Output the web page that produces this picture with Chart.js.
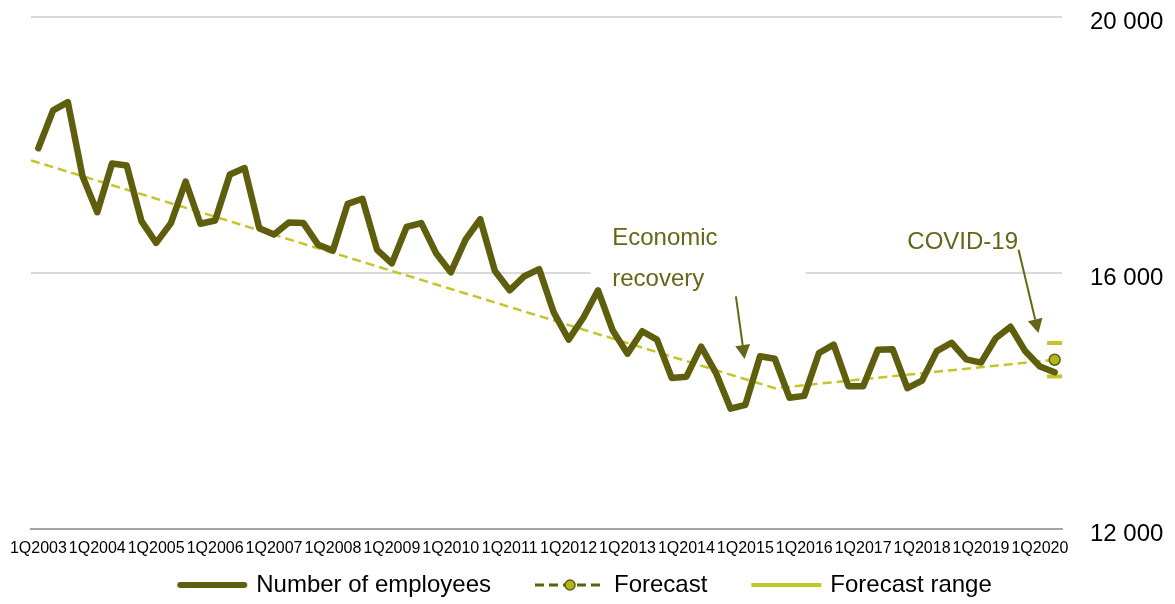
<!DOCTYPE html>
<html>
<head>
<meta charset="utf-8">
<script src="https://cdn.jsdelivr.net/npm/chart.js@4.4.1/dist/chart.umd.min.js"></script>
<style>
  body { margin: 0; background: #fff; }
  #wrap { width: 1175px; height: 604px; }
</style>
</head>
<body>
<div id="wrap"><canvas id="employeesChart"></canvas></div>
<script>
// quarters 1Q2003 .. 2Q2020
const quarters = [];
for (let year = 2003; year <= 2020; year++) {
    for (let q = 1; q <= 4; q++) {
        if (year === 2020 && q > 2) break;
        quarters.push(q + 'Q' + year);
    }
}

const employees = [
    17950, 18540, 18670, 17510, 16950, 17710, 17680, 16810,
    16470, 16780, 17430, 16770, 16820, 17540, 17640, 16700,
    16600, 16790, 16780, 16440, 16350, 17080, 17160, 16360,
    16150, 16720, 16780, 16310, 16010, 16520, 16840, 16030,
    15730, 15950, 16060, 15380, 14960, 15300, 15730, 15100,
    14740, 15090, 14960, 14360, 14380, 14850, 14440, 13880,
    13940, 14700, 14660, 14050, 14080, 14750, 14880, 14230,
    14230, 14800, 14810, 14200, 14320, 14780, 14910, 14650,
    14600, 14980, 15160, 14780, 14540, 14450,
];

// forecast for 2Q2020 and its range
const forecastQuarter = 69;
const forecastValue = 14645;
const forecastRange = [14906, 14384];

// dashed trend: start of 1Q2003, low point in 2015, forecast
const trendAt = [-0.5, 50, 69];
const trendValues = [17760, 14200, 14645];

const yTicks = [12000, 16000, 20000];

const OLIVE = '#5e5e0e';
const TEXT_OLIVE = '#66661a';
const LIME = '#c4c42b';

// legend symbols: 70px visible part, transparent margin on the left keeps items apart
const symbol = (draw) => {
    const c = document.createElement('canvas');
    c.width = 107;
    c.height = 14;
    draw(c.getContext('2d'));
    return c;
};
const employeesSymbol = symbol((g) => {
    g.strokeStyle = OLIVE;
    g.lineWidth = 6;
    g.lineCap = 'round';
    g.beginPath(); g.moveTo(39, 7); g.lineTo(103, 7); g.stroke();
});
const forecastSymbol = symbol((g) => {
    g.strokeStyle = OLIVE;
    g.lineWidth = 3;
    g.setLineDash([9, 5]);
    g.beginPath(); g.moveTo(36, 7); g.lineTo(106, 7); g.stroke();
    g.setLineDash([]);
    g.fillStyle = '#b4b41e';
    g.lineWidth = 1.5;
    g.beginPath(); g.arc(71, 7, 5, 0, Math.PI * 2); g.fill(); g.stroke();
});
const rangeSymbol = symbol((g) => {
    g.strokeStyle = LIME;
    g.lineWidth = 4;
    g.beginPath(); g.moveTo(36, 7); g.lineTo(106, 7); g.stroke();
});

const drawArrow = (ctx, x1, y1, x2, y2) => {
    const ang = Math.atan2(y2 - y1, x2 - x1);
    const len = 14, half = 7.5;
    const bx = x2 - Math.cos(ang) * len, by = y2 - Math.sin(ang) * len;
    ctx.beginPath();
    ctx.moveTo(x1, y1);
    ctx.lineTo(bx, by);
    ctx.stroke();
    ctx.beginPath();
    ctx.moveTo(x2, y2);
    ctx.lineTo(bx - Math.sin(ang) * half, by + Math.cos(ang) * half);
    ctx.lineTo(bx + Math.sin(ang) * half, by - Math.cos(ang) * half);
    ctx.closePath();
    ctx.fill();
};

// text boxes and arrows, placed in data units
const notes = {
    id: 'notes',
    beforeDatasetsDraw(chart) {
        const {ctx, scales: {x, y}} = chart;
        const l = x.getPixelForValue(37.5), r = x.getPixelForValue(52.1);
        const t = y.getPixelForValue(16960), b = y.getPixelForValue(15830);
        ctx.save();
        ctx.fillStyle = '#fff';
        ctx.fillRect(l, t, r - l, b - t);
        ctx.restore();
    },
    afterDatasetsDraw(chart) {
        const {ctx, scales: {x, y}} = chart;
        ctx.save();
        ctx.fillStyle = TEXT_OLIVE;
        ctx.strokeStyle = TEXT_OLIVE;
        ctx.font = '24px "Liberation Sans", Arial, sans-serif';
        ctx.textAlign = 'left';
        ctx.textBaseline = 'alphabetic';
        const ex = x.getPixelForValue(38.96), ey = y.getPixelForValue(16442);
        ctx.fillText('Economic', ex, ey);
        ctx.fillText('recovery', ex, ey + 41);
        ctx.fillText('COVID-19', x.getPixelForValue(59.0), y.getPixelForValue(16375));
        ctx.lineWidth = 2;
        drawArrow(ctx, x.getPixelForValue(47.36), y.getPixelForValue(15634),
            x.getPixelForValue(47.95), y.getPixelForValue(14656));
        drawArrow(ctx, x.getPixelForValue(66.55), y.getPixelForValue(16364),
            x.getPixelForValue(67.9), y.getPixelForValue(15062));
        ctx.restore();
    },
};

// centre the visible legend and sit it a bit lower
const legendNudge = {
    id: 'legendNudge',
    afterLayout(chart) {
        const lg = chart.legend;
        lg.left -= 29; lg.right -= 29;
        lg.top += 3; lg.bottom += 3;
    },
};

const fmt = (v) => String(v).replace(/\B(?=(\d{3})+(?!\d))/g, ' ');

Chart.defaults.font.family = '"Liberation Sans", Arial, sans-serif';
Chart.defaults.color = '#000';

new Chart(document.getElementById('employeesChart'), {
    type: 'line',
    data: {
        datasets: [
            {
                label: 'Number of employees',
                data: employees.map((v, i) => ({x: i, y: v})),
                borderColor: OLIVE,
                borderWidth: 6.5,
                borderJoinStyle: 'round',
                borderCapStyle: 'round',
                pointRadius: 0,
                tension: 0,
            },
            {
                label: 'Forecast',
                data: [{x: forecastQuarter, y: forecastValue}],
                showLine: false,
                pointRadius: 5.5,
                pointBackgroundColor: '#b4b41e',
                pointBorderColor: OLIVE,
                pointBorderWidth: 1.5,
                order: -1,
            },
            {
                label: 'Forecast range',
                data: forecastRange.map((v) => ({x: forecastQuarter, y: v})),
                showLine: false,
                pointStyle: 'line',
                pointRadius: 7.5,
                pointBorderWidth: 4,
                pointBorderColor: LIME,
            },
            {
                label: 'trend',
                data: trendValues.map((v, i) => ({x: trendAt[i], y: v})),
                borderColor: LIME,
                borderWidth: 2.5,
                borderDash: [9, 5],
                pointRadius: 0,
                tension: 0,
            },
        ],
    },
    options: {
        responsive: true,
        maintainAspectRatio: false,
        animation: false,
        layout: {padding: {left: 31, right: 11, top: 17, bottom: 0}},
        plugins: {
            tooltip: {enabled: false},
            legend: {
                position: 'bottom',
                labels: {
                    usePointStyle: true,
                    pointStyleWidth: 99,
                    padding: 12,
                    color: '#000',
                    font: {size: 24},
                    generateLabels: () => [
                        {text: 'Number of employees', pointStyle: employeesSymbol, datasetIndex: 0},
                        {text: 'Forecast', pointStyle: forecastSymbol, datasetIndex: 1},
                        {text: 'Forecast range', pointStyle: rangeSymbol, datasetIndex: 2},
                    ].map((it) => ({...it, fontColor: '#000', lineWidth: 0, hidden: false,
                        fillStyle: 'transparent', strokeStyle: 'transparent'})),
                },
            },
        },
        scales: {
            x: {
                type: 'linear',
                min: -0.5,
                max: 69.5,
                afterBuildTicks: (axis) => {
                    axis.ticks = quarters
                        .map((q, i) => ({value: i}))
                        .filter((t) => quarters[t.value].startsWith('1Q'));
                },
                afterFit: (axis) => {
                    axis.height = 29;
                    axis.paddingLeft = 0;
                    axis.paddingRight = 0;
                },
                grid: {display: false, drawTicks: false},
                border: {display: true, color: '#a6a6a6', width: 2},
                ticks: {
                    autoSkip: false,
                    maxRotation: 0,
                    padding: 10,
                    font: {size: 16},
                    callback: (v) => quarters[v],
                },
            },
            y: {
                position: 'right',
                min: 12000,
                max: 20000,
                afterBuildTicks: (axis) => {
                    axis.ticks = yTicks.map((v) => ({value: v}));
                },
                afterFit: (axis) => {
                    axis.width = 102;
                    axis.paddingTop = 0;
                    axis.paddingBottom = 0;
                },
                grid: {
                    color: (c) => (c.tick && c.tick.value === 12000 ? 'rgba(0,0,0,0)' : '#d9d9d9'),
                    lineWidth: 2,
                    drawTicks: false,
                },
                border: {display: false},
                ticks: {
                    padding: 28,
                    labelOffset: 5,
                    font: {size: 24},
                    callback: (v) => fmt(v),
                },
            },
        },
    },
    plugins: [notes, legendNudge],
});
</script>
</body>
</html>
